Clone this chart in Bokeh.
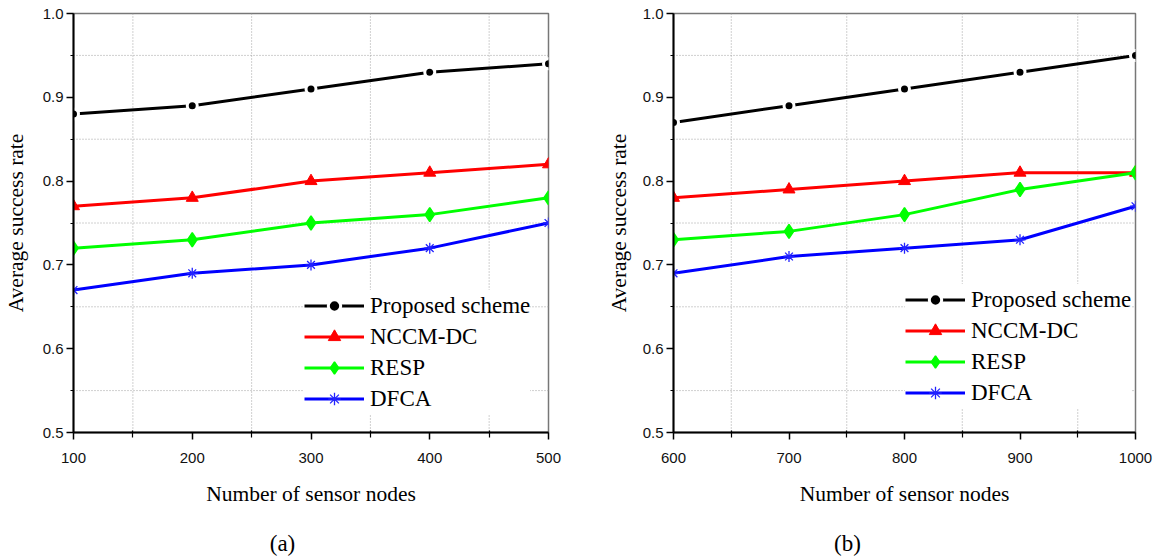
from bokeh.plotting import figure
from bokeh.layouts import row, column
from bokeh.models import (Range1d, FixedTicker, NumeralTickFormatter, Legend,
                          LegendItem, Label, Span)
from bokeh.core.properties import value
from bokeh.embed import file_html
from bokeh.resources import INLINE

# ---------------- data ----------------
series_names = ["Proposed scheme", "NCCM-DC", "RESP", "DFCA"]

nodes_a = [100, 200, 300, 400, 500]
proposed_a = [0.88, 0.89, 0.91, 0.93, 0.94]
nccm_a = [0.77, 0.78, 0.80, 0.81, 0.82]
resp_a = [0.72, 0.73, 0.75, 0.76, 0.78]
dfca_a = [0.67, 0.69, 0.70, 0.72, 0.75]

nodes_b = [600, 700, 800, 900, 1000]
proposed_b = [0.87, 0.89, 0.91, 0.93, 0.95]
nccm_b = [0.78, 0.79, 0.80, 0.81, 0.81]
resp_b = [0.73, 0.74, 0.76, 0.79, 0.81]
dfca_b = [0.69, 0.71, 0.72, 0.73, 0.77]

y_ticks = [0.5, 0.6, 0.7, 0.8, 0.9, 1.0]
y_minor = [0.55, 0.65, 0.75, 0.85, 0.95]
x_ticks_a = [100, 200, 300, 400, 500]
x_minor_a = [150, 250, 350, 450]
x_ticks_b = [600, 700, 800, 900, 1000]
x_minor_b = [650, 750, 850, 950]

captions = ["(a)", "(b)"]

SERIF = "Liberation Serif"
SANS = "Liberation Sans"

styles = [
    dict(color="#000000", marker="circle", size=10, fill="#000000", lc="#ffffff", lw=3),
    dict(color="#ff0000", marker="triangle", size=12, fill="#ff0000", lc="#ff0000", lw=1),
    dict(color="#00ff00", marker="diamond", size=14, fill="#00ff00", lc="#00ff00", lw=1.5),
    dict(color="#0000ff", marker="asterisk", size=11, fill="#0000ff", lc="#2222ff", lw=1.3),
]


def make_panel(xs, ys_list, xr, xt, xm, width, height, bl, br, bt, bb,
               ylab_standoff, leg_loc):
    p = figure(width=width, height=height, output_backend="svg",
               toolbar_location=None, x_range=Range1d(*xr),
               y_range=Range1d(0.5, 1.0),
               min_border_left=bl, min_border_right=br,
               min_border_top=bt, min_border_bottom=bb)
    p.background_fill_color = "white"
    p.border_fill_color = "white"
    p.outline_line_color = "#777777"
    p.outline_line_width = 1.5
    p.grid.visible = False

    # dotted guide lines at the half-step positions only
    for v in xm:
        p.add_layout(Span(location=v, dimension="height", line_color="#a0a0a0",
                          line_width=1, line_dash="1 2", level="underlay"))
    for v in y_minor:
        p.add_layout(Span(location=v, dimension="width", line_color="#a0a0a0",
                          line_width=1, line_dash="1 2", level="underlay"))

    # axes
    p.xaxis.ticker = FixedTicker(ticks=xt, minor_ticks=xm)
    p.yaxis.ticker = FixedTicker(ticks=y_ticks, minor_ticks=y_minor)
    p.xaxis.formatter = NumeralTickFormatter(format="0")
    p.yaxis.formatter = NumeralTickFormatter(format="0.0")
    for ax in (p.xaxis[0], p.yaxis[0]):
        ax.axis_line_color = "#000000"
        ax.axis_line_width = 2
        ax.major_tick_line_color = "#000000"
        ax.major_tick_line_width = 1.5
        ax.minor_tick_line_color = "#000000"
        ax.minor_tick_line_width = 1.2
        ax.major_tick_in = 0
        ax.major_tick_out = 7
        ax.major_label_text_font = SANS
        ax.major_label_text_font_size = "15px"
        ax.major_label_text_color = "#111111"
        ax.axis_label_text_font = SERIF
        ax.axis_label_text_font_size = "21.5px"
        ax.axis_label_text_font_style = "normal"
        ax.axis_label_text_color = "#000000"
    p.xaxis.minor_tick_in = 2
    p.xaxis.minor_tick_out = 5
    p.yaxis.minor_tick_in = 0
    p.yaxis.minor_tick_out = 3
    p.xaxis.major_label_standoff = 13
    p.yaxis.major_label_standoff = 3
    p.xaxis.axis_label = "Number of sensor nodes"
    p.yaxis.axis_label = "Average success rate"
    p.xaxis.axis_label_standoff = 16
    p.yaxis.axis_label_standoff = ylab_standoff

    items = []
    for name, ys, st in zip(series_names, ys_list, styles):
        ln = p.line(xs, ys, line_color=st["color"], line_width=3)
        sc = p.scatter(xs, ys, marker=st["marker"], size=st["size"],
                       fill_color=st["fill"],
                       line_color=st["lc"], line_width=st["lw"])
        items.append(LegendItem(label=name, renderers=[ln, sc]))

    leg = Legend(items=items, location=leg_loc, orientation="vertical")
    leg.padding = 0
    leg.margin = 0
    leg.spacing = 0
    leg.label_height = 31
    leg.glyph_height = 31
    leg.glyph_width = 60
    leg.label_standoff = 6
    leg.label_text_font = SERIF
    leg.label_text_font_size = "23px"
    leg.label_text_color = "#000000"
    leg.border_line_color = None
    leg.background_fill_color = "white"
    leg.background_fill_alpha = 1.0
    p.add_layout(leg, "center")
    return p


p1 = make_panel(nodes_a, [proposed_a, nccm_a, resp_a, dfca_a], (100, 500),
                x_ticks_a, x_minor_a, width=600, height=525,
                bl=73, br=52, bt=13, bb=91, ylab_standoff=12,
                leg_loc=(231, 18))
p2 = make_panel(nodes_b, [proposed_b, nccm_b, resp_b, dfca_b], (600, 1000),
                x_ticks_b, x_minor_b, width=553, height=525,
                bl=73, br=18, bt=11, bb=93, ylab_standoff=9,
                leg_loc=(232, 24))

# caption strip under both panels, in page-pixel coordinates
cap = figure(width=1153, height=32, output_backend="svg", toolbar_location=None,
             x_range=Range1d(0, 1153), y_range=Range1d(0, 32),
             min_border=0, min_border_left=0, min_border_right=0,
             min_border_top=0, min_border_bottom=0)
cap.axis.visible = False
cap.grid.visible = False
cap.outline_line_color = None
cap.background_fill_color = "white"
cap.border_fill_color = "white"
cap.text(x=[282, 847], y=[14, 14], text=captions, text_font=value(SERIF),
         text_font_size="23px", text_color="#000000", text_align="center",
         text_baseline="middle")

layout = column(row(p1, p2), cap)
open("out.html", "w").write(file_html(layout, INLINE))
